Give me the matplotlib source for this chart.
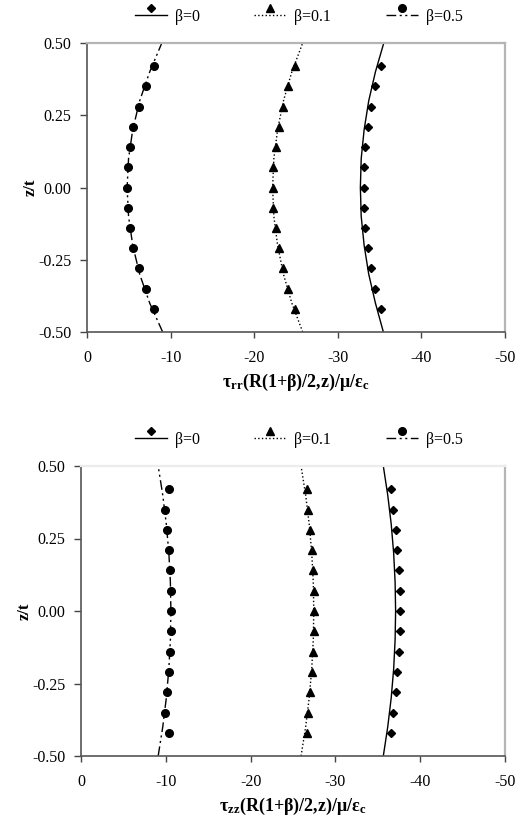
import matplotlib
matplotlib.use("Agg")
import matplotlib.pyplot as plt
from matplotlib.legend_handler import HandlerLine2DCompound

plt.rcParams['font.family'] = ['Liberation Serif', 'DejaVu Serif']
plt.rcParams['mathtext.fontset'] = 'custom'
plt.rcParams['mathtext.rm'] = 'Liberation Serif'
plt.rcParams['mathtext.bf'] = 'Liberation Serif:bold'
plt.rcParams['mathtext.it'] = 'Liberation Serif:italic'

# ---------------- data ----------------
z_pts = [-0.42, -0.35, -0.28, -0.21, -0.14, -0.07, 0.0, 0.07, 0.14, 0.21, 0.28, 0.35, 0.42]
z_line = [-0.5, -0.4, -0.3, -0.2, -0.1, 0.0, 0.1, 0.2, 0.3, 0.4, 0.5]

labels = ['β=0', 'β=0.1', 'β=0.5']

# top panel: tau_rr
rr_pts_b0 = [-35.2, -34.5, -34.0, -33.6, -33.3, -33.1, -33.1, -33.1, -33.3, -33.6, -34.0, -34.5, -35.2]
rr_pts_b01 = [-24.9, -24.1, -23.4, -22.95, -22.6, -22.3, -22.3, -22.3, -22.6, -22.95, -23.4, -24.1, -24.9]
rr_pts_b05 = [-8.0, -7.0, -6.2, -5.55, -5.15, -4.9, -4.8, -4.9, -5.15, -5.55, -6.2, -7.0, -8.0]
rr_line_b0 = [-35.45, -34.5, -33.7, -33.15, -32.8, -32.7, -32.8, -33.15, -33.7, -34.5, -35.5]
rr_line_b01 = [-25.8, -24.5, -23.5, -22.8, -22.35, -22.2, -22.35, -22.8, -23.5, -24.5, -25.8]
rr_line_b05 = [-9.05, -7.5, -6.3, -5.47, -4.97, -4.8, -4.97, -5.47, -6.3, -7.5, -8.95]

# bottom panel: tau_zz
zz_pts_b0 = [-36.6, -36.8, -37.1, -37.3, -37.45, -37.57, -37.6, -37.57, -37.45, -37.3, -37.1, -36.8, -36.6]
zz_pts_b01 = [-26.65, -26.8, -27.04, -27.24, -27.4, -27.48, -27.5, -27.48, -27.4, -27.24, -27.04, -26.8, -26.65]
zz_pts_b05 = [-10.38, -9.9, -10.18, -10.38, -10.5, -10.57, -10.6, -10.57, -10.5, -10.38, -10.18, -9.9, -10.38]
zz_line_b0 = [-35.65, -36.17, -36.58, -36.87, -37.04, -37.1, -37.04, -36.87, -36.58, -36.17, -35.65]
zz_line_b01 = [-25.95, -26.49, -26.91, -27.21, -27.39, -27.45, -27.39, -27.21, -26.91, -26.49, -25.95]
zz_line_b05 = [-9.1, -9.64, -10.06, -10.36, -10.54, -10.6, -10.54, -10.36, -10.06, -9.64, -9.1]

x_ticks = [0, -10, -20, -30, -40, -50]
x_ticklabels = ['0', '-10', '-20', '-30', '-40', '-50']
y_ticks = [-0.5, -0.25, 0.0, 0.25, 0.5]
y_ticklabels = ['-0.50', '-0.25', '0.00', '0.25', '0.50']

# ---------------- styles ----------------
markers = ['D', '^', 'o']
msizes = [4.5, 5.5, 5.5]
lstyles = ['-', ':', (0, (7, 2.5, 1.5, 2.5, 1.5, 2.5))]


class MarkerAbove(HandlerLine2DCompound):
    def create_artists(self, legend, orig_handle, xdescent, ydescent,
                       width, height, fontsize, trans):
        arts = super().create_artists(legend, orig_handle, xdescent, ydescent,
                                      width, height, fontsize, trans)
        line, mk = arts
        yd = mk.get_ydata()
        mk.set_ydata([v + 5.5 for v in yd])
        return arts


fig = plt.figure(figsize=(5.17, 8.18), dpi=100)

ax1 = fig.add_axes([87/517, 1-332/818, 418/517, 289/818])
ax2 = fig.add_axes([81/517, 1-756/818, 424/517, 290/818])


def draw(ax, pts, lines, xlabel, top_spine_col, ylab_x):
    handles = []
    for i in range(3):
        ax.plot(lines[i], z_line, color='black', lw=1.0, ls=lstyles[i], zorder=2)
        ax.plot(pts[i], z_pts, color='black', lw=0, marker=markers[i], ms=msizes[i], zorder=3)
        h, = ax.plot([], [], color='black', lw=1.0, ls=lstyles[i], marker=markers[i],
                     ms=msizes[i], label=labels[i])
        handles.append(h)
    ax.set_xlim(0, -50)
    ax.set_ylim(-0.5, 0.5)
    ax.set_xticks(x_ticks)
    ax.set_xticklabels(x_ticklabels)
    ax.set_yticks(y_ticks)
    ax.set_yticklabels(y_ticklabels)
    ax.tick_params(axis='x', direction='out', length=4, width=1, pad=9, labelsize=11.5, colors='#444444', labelcolor='black')
    ax.tick_params(axis='y', direction='out', length=5, width=1, pad=6, labelsize=11.5, colors='#444444', labelcolor='black')
    for s in ['left', 'bottom']:
        ax.spines[s].set_color('#555555')
        ax.spines[s].set_linewidth(1.2)
    ax.spines['top'].set_color(top_spine_col)
    ax.spines['right'].set_color('#b5b5b5')
    ax.spines['top'].set_linewidth(1.6)
    ax.spines['right'].set_linewidth(1.6)
    ax.set_ylabel('z/t', fontsize=12, fontweight='bold')
    ax.yaxis.set_label_coords(ylab_x, 0.5)
    ax.set_xlabel(xlabel, fontsize=13, fontweight='bold', labelpad=4)
    return handles


h1 = draw(ax1, [rr_pts_b0, rr_pts_b01, rr_pts_b05], [rr_line_b0, rr_line_b01, rr_line_b05],
          r'τ$_{\mathbf{rr}}$(R(1+β)/2,z)/μ/ε$_{\mathbf{c}}$', '#b5b5b5', (39-87)/418)
h2 = draw(ax2, [zz_pts_b0, zz_pts_b01, zz_pts_b05], [zz_line_b0, zz_line_b01, zz_line_b05],
          r'τ$_{\mathbf{zz}}$(R(1+β)/2,z)/μ/ε$_{\mathbf{c}}$', '#ececec', (33-81)/424)

for h, y in [(h1, 1-17/818), (h2, 1-440/818)]:
    fig.legend(handles=h, loc='center', bbox_to_anchor=(0.578, y), ncol=3, frameon=False,
               fontsize=11.5, handlelength=2.0, handletextpad=0.5, columnspacing=3.4,
               handler_map={matplotlib.lines.Line2D: MarkerAbove(numpoints=1)})

fig.savefig('out.png', dpi=100)
